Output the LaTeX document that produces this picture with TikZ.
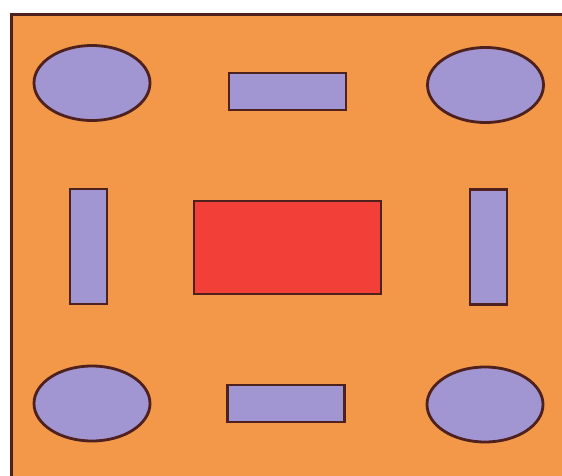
\documentclass[tikz,border=0pt]{standalone}
\usepackage{xcolor}
\usepackage{tikz}
\usetikzlibrary{shapes.geometric}
\definecolor{padorange}{RGB}{242,152,72}
\definecolor{partlilac}{RGB}{162,150,210}
\definecolor{corered}{RGB}{242,64,56}
\definecolor{edgebrown}{RGB}{78,32,30}

\begin{document}
\begin{tikzpicture}[
  x=1pt, y=-1pt,
  oval/.style={ellipse, draw=edgebrown, fill=partlilac, line width=2.8pt,
               inner sep=0pt, minimum width=116pt, minimum height=75pt},
  hbar/.style={rectangle, draw=edgebrown, fill=partlilac, line width=2.6pt,
               inner sep=0pt, minimum width=117pt, minimum height=37pt},
  vbar/.style={rectangle, draw=edgebrown, fill=partlilac, line width=2.6pt,
               inner sep=0pt, minimum width=37pt, minimum height=115pt},
  corebox/.style={rectangle, draw=edgebrown, fill=corered, line width=2.6pt,
                  inner sep=0pt, minimum width=187pt, minimum height=93pt}
]
\useasboundingbox (0,0) rectangle (562,476);
\clip (0,0) rectangle (562,476);

% Background board
\draw[draw=edgebrown, fill=padorange, line width=3pt] (11,15) rectangle (575,490);

% Corner ovals
\node[oval] (ovalTL) at (92,83)    {};
\node[oval] (ovalTR) at (485.5,85) {};
\node[oval] (ovalBL) at (92,403.5) {};
\node[oval] (ovalBR) at (485,404.5) {};

% Side bars
\node[hbar] (barT) at (287.5,91.5)  {};
\node[hbar] (barB) at (286,403.5)   {};
\node[vbar] (barL) at (88.5,246.5)  {};
\node[vbar] (barR) at (488.5,247)   {};

% Centre block
\node[corebox] (core) at (287.5,247.5) {};

\end{tikzpicture}
\end{document}
